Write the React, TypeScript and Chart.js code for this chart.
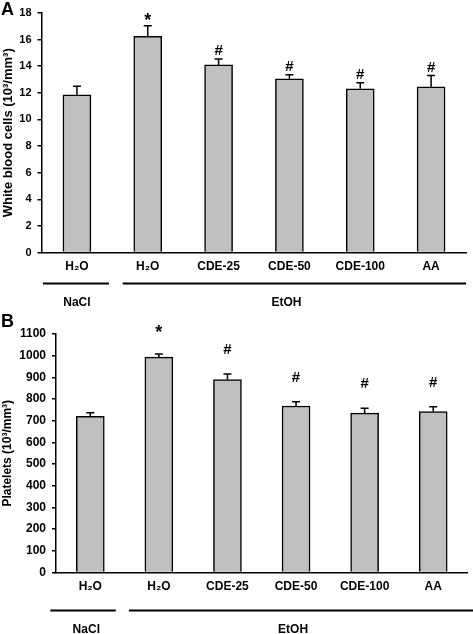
import React, { useEffect, useRef } from "react";
import { Chart, registerables } from "chart.js";
Chart.register(...registerables);

const categories = ["H₂O", "H₂O", "CDE-25", "CDE-50", "CDE-100", "AA"];
const wbcMeans = [11.85, 16.25, 14.1, 13.05, 12.3, 12.45];
const wbcErrors = [0.65, 0.8, 0.45, 0.3, 0.45, 0.85];
const wbcMarks = ["", "*", "#", "#", "#", "#"];
const wbcTickMax = 18;
const wbcTickStep = 2;
const plateletMeans = [720, 993, 890, 768, 735, 742];
const plateletErrors = [17, 15, 25, 20, 23, 23];
const plateletMarks = ["", "*", "#", "#", "#", "#"];
const plateletTickMax = 1100;
const plateletTickStep = 100;
const groupLabels = ["NaCl", "EtOH"];
const groupStart = [0, 1];
const groupEnd = [0, 5];

const FONT = "'Liberation Sans', Arial, sans-serif";

type PanelStyle = {
  letter: string;
  title: string;
  titleSize: number;
  tickSize: number;
  width: number;
  height: number;
  top: number;
  yAxisWidth: number;
  padRight: number;
  padTop: number;
  xAxisHeight: number;
  markOffset: number;
  lineY: number;
  groupY: number;
  lineExt: number[][];
  groupX: number[];
};

function makePanel(
  canvas: HTMLCanvasElement,
  means: number[],
  errors: number[],
  marks: string[],
  max: number,
  step: number,
  s: PanelStyle
) {
  const overlay = {
    id: "overlay",
    afterDatasetsDraw(chart: any) {
      const ctx = chart.ctx;
      const meta = chart.getDatasetMeta(0);
      const y = chart.scales.y;
      ctx.save();
      ctx.strokeStyle = "#000";
      ctx.lineWidth = 1.5;
      meta.data.forEach((bar: any, i: number) => {
        const yb = y.getPixelForValue(means[i]);
        const yt = y.getPixelForValue(means[i] + errors[i]);
        ctx.beginPath();
        ctx.moveTo(bar.x, yb);
        ctx.lineTo(bar.x, yt);
        ctx.moveTo(bar.x - 4, yt);
        ctx.lineTo(bar.x + 4, yt);
        ctx.stroke();
        if (marks[i]) {
          const star = marks[i] === "*";
          ctx.fillStyle = "#000";
          ctx.font = `bold ${star ? 18 : 15}px ${FONT}`;
          ctx.textAlign = "center";
          ctx.textBaseline = "middle";
          ctx.fillText(marks[i], bar.x, yt - s.markOffset + (star ? 3 : 0));
        }
      });
      ctx.restore();
    },
    afterDraw(chart: any) {
      const ctx = chart.ctx;
      const x = chart.scales.x;
      const area = chart.chartArea;
      ctx.save();
      ctx.fillStyle = "#000";
      ctx.strokeStyle = "#000";
      ctx.font = `bold 18px ${FONT}`;
      ctx.textAlign = "left";
      ctx.textBaseline = "alphabetic";
      ctx.fillText(s.letter, 1, 15);
      ctx.save();
      ctx.translate(8, (area.top + area.bottom) / 2);
      ctx.rotate(-Math.PI / 2);
      ctx.font = `bold ${s.titleSize}px ${FONT}`;
      ctx.textAlign = "center";
      ctx.textBaseline = "middle";
      ctx.fillText(s.title, 0, 0);
      ctx.restore();
      ctx.lineWidth = 2.2;
      ctx.font = `bold 12px ${FONT}`;
      ctx.textAlign = "center";
      ctx.textBaseline = "middle";
      groupLabels.forEach((g, k) => {
        const x0 = x.getPixelForValue(groupStart[k]) + s.lineExt[k][0];
        const x1 = x.getPixelForValue(groupEnd[k]) + s.lineExt[k][1];
        ctx.beginPath();
        ctx.moveTo(x0, area.bottom + s.lineY);
        ctx.lineTo(x1, area.bottom + s.lineY);
        ctx.stroke();
        const cx = (x.getPixelForValue(groupStart[k]) + x.getPixelForValue(groupEnd[k])) / 2 + s.groupX[k];
        ctx.fillText(g, cx, area.bottom + s.groupY);
      });
      ctx.restore();
    },
  };

  return new Chart(canvas, {
    type: "bar",
    data: {
      labels: categories,
      datasets: [
        {
          data: means,
          backgroundColor: "#C0C0C0",
          borderColor: "#000",
          borderWidth: 1.5,
          borderSkipped: "bottom",
          barThickness: 28,
        },
      ],
    },
    options: {
      responsive: false,
      animation: false,
      layout: { padding: { left: 0, right: s.padRight, top: s.padTop, bottom: 0 } },
      plugins: {
        legend: { display: false },
        tooltip: { enabled: false },
      },
      scales: {
        x: {
          grid: { display: false, drawTicks: false },
          border: { display: true, color: "#000", width: 1.5 },
          ticks: {
            color: "#000",
            font: { family: FONT, size: 12, weight: "bold" },
            padding: 7,
            maxRotation: 0,
            autoSkip: false,
          },
          afterFit: (scale: any) => {
            scale.height = s.xAxisHeight;
          },
        },
        y: {
          min: 0,
          max,
          grid: { drawOnChartArea: false, drawTicks: true, tickLength: 4, color: "#000", lineWidth: 1.5 },
          border: { display: true, color: "#000", width: 1.5 },
          ticks: {
            stepSize: step,
            color: "#000",
            padding: 6,
            font: { family: FONT, size: s.tickSize, weight: "bold" },
            callback: (v: any) => String(v),
          },
          afterFit: (scale: any) => {
            scale.width = s.yAxisWidth;
          },
        },
      },
    },
    plugins: [overlay],
  } as any);
}

const styleA: PanelStyle = {
  letter: "A",
  title: "White blood cells (10³/mm³)",
  titleSize: 13,
  tickSize: 11,
  width: 473,
  height: 312,
  top: 0,
  yAxisWidth: 41.5,
  padRight: 6.5,
  padTop: 13,
  xAxisHeight: 59.5,
  markOffset: 8,
  lineY: 31,
  groupY: 50,
  lineExt: [[-34, 32], [-25, 35]],
  groupX: [0, -3],
};

const styleB: PanelStyle = {
  letter: "B",
  title: "Platelets (10³/mm³)",
  titleSize: 12,
  tickSize: 12,
  width: 473,
  height: 322,
  top: 312,
  yAxisWidth: 56,
  padRight: 5.5,
  padTop: 22,
  xAxisHeight: 61.5,
  markOffset: 24,
  lineY: 38,
  groupY: 57.5,
  lineExt: [[-40, 25.5], [-30, 40]],
  groupX: [-4, -3],
};

export default function App() {
  const refA = useRef<HTMLCanvasElement>(null);
  const refB = useRef<HTMLCanvasElement>(null);
  useEffect(() => {
    const a = makePanel(refA.current!, wbcMeans, wbcErrors, wbcMarks, wbcTickMax, wbcTickStep, styleA);
    const b = makePanel(refB.current!, plateletMeans, plateletErrors, plateletMarks, plateletTickMax, plateletTickStep, styleB);
    return () => {
      a.destroy();
      b.destroy();
    };
  }, []);
  return (
    <div style={{ position: "absolute", left: 0, top: 0, width: 473, height: 634, background: "#fff" }}>
      <canvas ref={refA} width={styleA.width} height={styleA.height} style={{ position: "absolute", left: 0, top: styleA.top, display: "block" }} />
      <canvas ref={refB} width={styleB.width} height={styleB.height} style={{ position: "absolute", left: 0, top: styleB.top, display: "block" }} />
    </div>
  );
}
